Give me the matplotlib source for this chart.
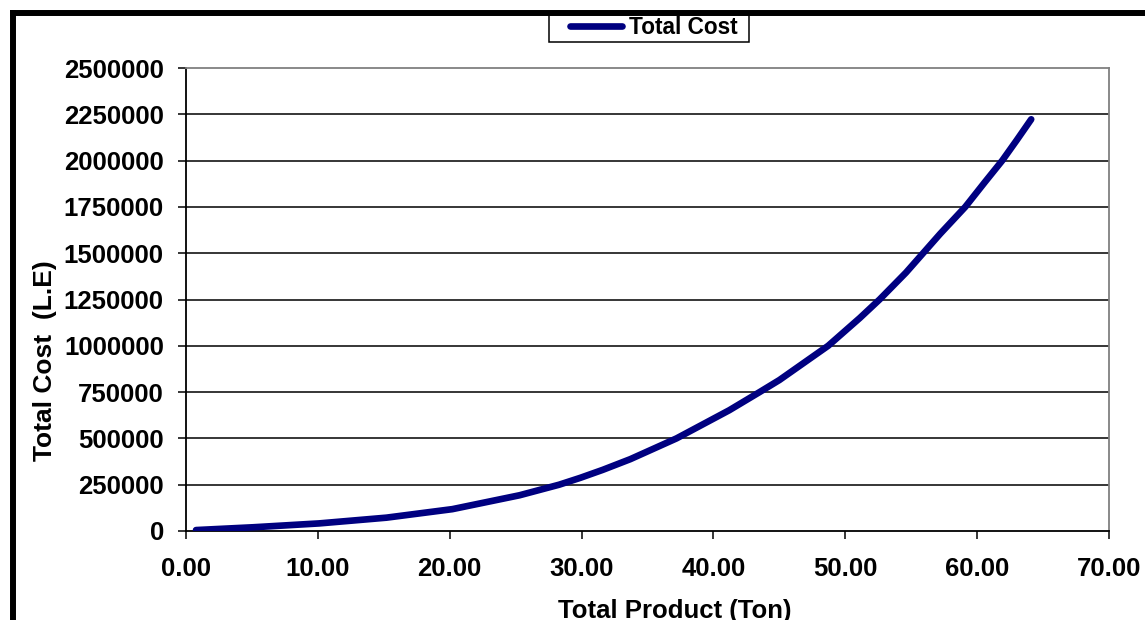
import matplotlib
matplotlib.use("Agg")
import matplotlib.pyplot as plt
from matplotlib.lines import Line2D
from matplotlib.patches import Rectangle
from matplotlib.ticker import FixedLocator, FuncFormatter

# output (ton) against total cost (L.E)
total_product = [0.76, 5.06, 10.1, 15.2, 20.2, 25.3, 28.3, 29.9, 31.6, 33.7,
                 37.2, 41.2, 43.5, 45.0, 48.7, 51.1, 52.6, 54.6, 55.9, 57.2,
                 59.1, 60.6, 61.9, 63.0, 64.1]
total_cost = [5000, 20000, 41000, 72000, 118000, 193000, 250000, 287000,
              330000, 388000, 500000, 652000, 750000, 815000, 1000000,
              1150000, 1250000, 1395000, 1500000, 1605000, 1750000, 1885000,
              2000000, 2110000, 2223000]

y_ticks = [0, 250000, 500000, 750000, 1000000, 1250000, 1500000, 1750000,
           2000000, 2250000, 2500000]
x_ticks = [0, 10, 20, 30, 40, 50, 60, 70]

W, H = 1145, 620
fig = plt.figure(figsize=(W / 100, H / 100), dpi=100)
plt.rcParams['font.family'] = ['Liberation Sans', 'DejaVu Sans']

ax = fig.add_axes([186 / W, 1 - 531 / H, (1109 - 186) / W, (531 - 68) / H])

ax.plot(total_product, total_cost, color='#000080', lw=4.8,
        solid_capstyle='round', solid_joinstyle='round',
        label='Total Cost', zorder=3)

ax.set_xlim(0, 70)
ax.set_ylim(0, 2500000)
ax.xaxis.set_major_locator(FixedLocator(x_ticks))
ax.yaxis.set_major_locator(FixedLocator(y_ticks))
ax.xaxis.set_major_formatter(FuncFormatter(lambda v, p: '%.2f' % v))
ax.yaxis.set_major_formatter(FuncFormatter(lambda v, p: '%d' % v))

for y in y_ticks[1:-1]:
    ax.axhline(y, color='black', lw=1.1, zorder=1)

ax.spines['left'].set_color('black')
ax.spines['bottom'].set_color('black')
ax.spines['top'].set_color('#808080')
ax.spines['right'].set_color('#808080')
for s in ax.spines.values():
    s.set_linewidth(1.3)

ax.tick_params(direction='out', length=6, width=1.1, colors='black',
               labelsize=18.5)
ax.tick_params(axis='x', pad=13)
ax.tick_params(axis='y', pad=10)
for lbl in ax.get_xticklabels() + ax.get_yticklabels():
    lbl.set_fontweight('bold')

ax.set_xlabel('Total Product (Ton)', fontsize=18.5, fontweight='bold')
ax.set_ylabel('Total Cost  (L.E)', fontsize=19, fontweight='bold')
ax.xaxis.set_label_coords(0.53, -0.147)
ax.yaxis.set_label_coords(-0.14, 0.369)

# legend box drawn separately (behind the axes) so the padding can be uneven
fig.add_artist(Rectangle((549 / W, 1 - 42 / H), 200 / W, 29 / H,
                         transform=fig.transFigure, facecolor='white',
                         edgecolor='black', lw=1.1, zorder=-1))
leg = ax.legend(loc='center left', bbox_to_anchor=(570 / W, 1 - 27 / H),
                bbox_transform=fig.transFigure, frameon=False,
                prop={'weight': 'bold', 'size': 16.3}, handlelength=2.3,
                handletextpad=0.3, borderpad=0, borderaxespad=0)

# heavy chart border (left and top edges)
fig.add_artist(Line2D([12.5 / W, 12.5 / W], [1 - 12.5 / H, -0.1],
                      transform=fig.transFigure, color='black', lw=4.3,
                      solid_capstyle='projecting', zorder=6))
fig.add_artist(Line2D([12.5 / W, 1.1], [1 - 12.5 / H, 1 - 12.5 / H],
                      transform=fig.transFigure, color='black', lw=4.3,
                      solid_capstyle='projecting', zorder=6))

fig.savefig('out.png', dpi=100)
